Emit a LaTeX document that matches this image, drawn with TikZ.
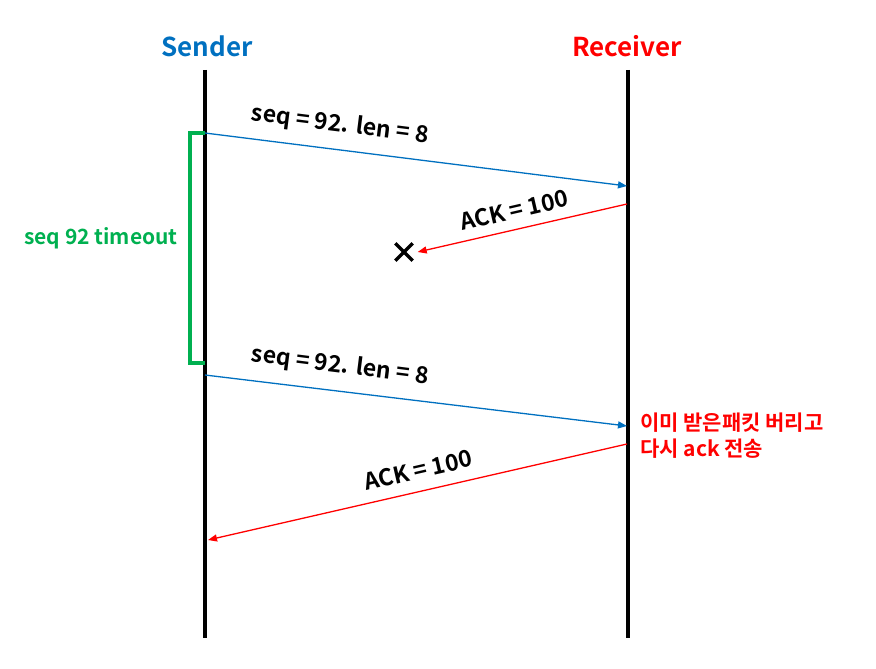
\documentclass[tikz,border=0pt]{standalone}
\usepackage{fontspec}
\setmainfont{Noto Sans CJK KR}[BoldFont={Noto Sans CJK KR Bold}]
\usetikzlibrary{arrows.meta}
\definecolor{sndblue}{RGB}{0,112,192}
\definecolor{rcvred}{RGB}{255,0,0}
\definecolor{toutgreen}{RGB}{0,176,80}
\tikzset{
  lifeline/.style={line width=3.5pt},
  msg/.style={line width=1.3pt,-{Triangle[length=9pt,width=7pt]}},
  msglabel/.style={font=\bfseries\fontsize{23}{26}\selectfont,inner sep=1pt},
  party/.style={font=\bfseries\fontsize{26}{30}\selectfont},
}
\begin{document}
\begin{tikzpicture}[x=1pt,y=-1pt]
\useasboundingbox (0,0) rectangle (876,669);
% lifelines
\coordinate (sndtop) at (205,70);
\coordinate (sndbot) at (205,638);
\coordinate (rcvtop) at (628,70);
\coordinate (rcvbot) at (628,638);
\draw[lifeline] (sndtop) -- (sndbot);
\draw[lifeline] (rcvtop) -- (rcvbot);
\node[party,sndblue] (sender) at (207,46) {Sender};
\node[party,rcvred] (receiver) at (627,46) {Receiver};
% message end points
\coordinate (s1) at (205,133);
\coordinate (r1) at (627,186);
\coordinate (r2) at (627,204);
\coordinate (s3) at (205,375);
\coordinate (r3) at (627,426);
\coordinate (r4) at (627,444);
\coordinate (s4) at (208,540);
% lost packet
\node[minimum size=17pt,inner sep=0pt] (lost) at (404,252) {};
\draw[line width=3.5pt] (lost.north west) -- (lost.south east);
\draw[line width=3.5pt] (lost.north east) -- (lost.south west);
% timeout bracket
\coordinate (bt) at (190,133);
\coordinate (bb) at (190,363);
\coordinate (bbr) at (205,363);
\draw[toutgreen,line width=3.5pt] (s1) -- (bt) -- (bb) -- (bbr);
\node[toutgreen,font=\bfseries\fontsize{21}{24}\selectfont] (tout) at (101,238) {seq 92 timeout};
% messages
\draw[msg,sndblue] (s1) -- (r1);
\node[msglabel,rotate=-7.2] (l1) at (340,125) {seq = 92. len = 8};
\draw[msg,rcvred] (r2) -- ([xshift=5pt]lost.east);
\node[msglabel,rotate=13] (l2) at (514,210) {ACK = 100};
\draw[msg,sndblue] (s3) -- (r3);
\node[msglabel,rotate=-7.2] (l3) at (340,366) {seq = 92. len = 8};
\draw[msg,rcvred] (r4) -- (s4);
\node[msglabel,rotate=13] (l4) at (418,470) {ACK = 100};
\node[rcvred,anchor=west,align=left,inner sep=0pt,font=\bfseries\fontsize{21}{26}\selectfont] (note) at (640,436) {이미 받은패킷 버리고\\다시 ack 전송};
\end{tikzpicture}
\end{document}
